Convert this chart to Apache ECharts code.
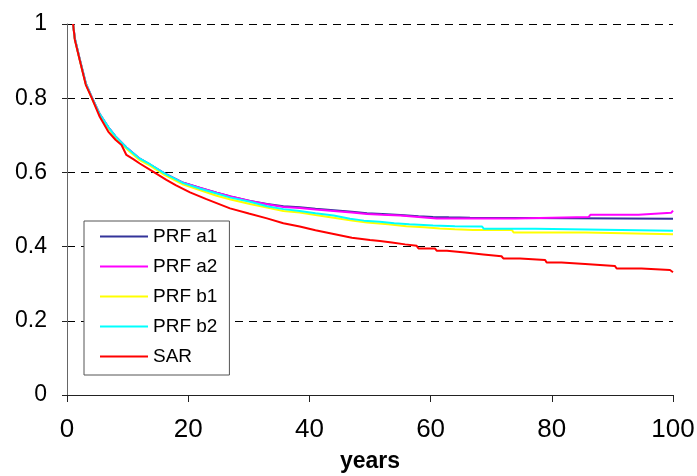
<!DOCTYPE html>
<html>
<head>
<meta charset="utf-8">
<script src="https://cdn.jsdelivr.net/npm/echarts@6/dist/echarts.min.js"></script>
<style>
  html, body { margin: 0; padding: 0; background: #fff; }
  #chart { width: 697px; height: 476px; }
</style>
</head>
<body>
<div id="chart"></div>
<script>
// Survival fraction over time, [years, fraction] pairs per model
const seriesNames = ['PRF a1', 'PRF a2', 'PRF b1', 'PRF b2', 'SAR'];
const xTicks = [0, 20, 40, 60, 80, 100];
const yTicks = [0, 0.2, 0.4, 0.6, 0.8, 1];

const prfA1 = [[1,1],[1.3,0.96],[2.1,0.905],[3.1,0.84],[4.1,0.802],[5.4,0.757],[6.8,0.722],[8,0.697],[9.8,0.667],[12,0.637],[13.7,0.621],[16,0.598],[19.2,0.572],[22,0.558],[24.7,0.545],[27,0.535],[30.2,0.523],[33,0.515],[35.7,0.509],[38.4,0.506],[41,0.502],[44,0.498],[47,0.494],[49.5,0.49],[52,0.488],[55,0.485],[58,0.482],[60.4,0.48],[63,0.479],[66.5,0.478],[66.8,0.475],[100,0.475]];
const prfA2 = [[1,1],[1.3,0.96],[2.1,0.905],[3.1,0.84],[4.1,0.802],[5.4,0.757],[6.8,0.722],[8,0.697],[9.8,0.667],[12,0.637],[13.7,0.621],[16,0.598],[19.2,0.572],[22,0.558],[24.7,0.545],[27,0.535],[30.2,0.523],[33,0.514],[35.7,0.507],[38.4,0.504],[41,0.5],[44,0.496],[47,0.492],[49.5,0.488],[52,0.486],[55,0.484],[58,0.48],[61,0.476],[74,0.476],[74.3,0.48],[86.1,0.48],[86.4,0.486],[94.3,0.486],[94.6,0.491],[99.7,0.491],[100,0.497]];
const prfB1 = [[1,1],[1.3,0.958],[2.1,0.903],[3.1,0.838],[4.1,0.8],[5.4,0.755],[6.8,0.72],[8,0.694],[9.8,0.664],[12,0.633],[13.7,0.618],[16,0.594],[19.2,0.567],[22,0.552],[24.7,0.537],[27,0.527],[30.2,0.515],[33,0.505],[35.7,0.496],[38.4,0.492],[41,0.485],[44,0.478],[47,0.47],[49.5,0.465],[53,0.46],[56,0.455],[59,0.452],[61.5,0.449],[64,0.447],[67,0.445],[73.4,0.445],[73.7,0.438],[85.6,0.438],[85.9,0.433],[100,0.433]];
const prfB2 = [[1,1],[1.3,0.96],[2.1,0.905],[3.1,0.84],[4.1,0.802],[5.4,0.757],[6.8,0.722],[8,0.697],[9.8,0.667],[12,0.637],[13.7,0.622],[16,0.598],[19.2,0.571],[22,0.556],[24.7,0.543],[27,0.532],[30.2,0.521],[33,0.509],[35.7,0.501],[38.4,0.496],[41,0.49],[44,0.484],[46.7,0.475],[49,0.47],[51.6,0.467],[54,0.463],[56.5,0.46],[60.4,0.457],[64,0.455],[68.5,0.454],[68.8,0.448],[77.3,0.448],[77.6,0.443],[100,0.443]];
const sar = [[1,1],[1.3,0.957],[2.1,0.903],[3.1,0.836],[4.1,0.8],[5.4,0.75],[6.8,0.71],[8,0.688],[9,0.674],[9.8,0.647],[11,0.635],[12,0.624],[14.2,0.602],[16.4,0.58],[18,0.565],[20.3,0.546],[23,0.528],[26.9,0.503],[30,0.489],[33,0.476],[35.7,0.463],[38.4,0.454],[41,0.444],[43.4,0.436],[47,0.424],[50,0.418],[51.65,0.415],[51.9,0.411],[53.6,0.411],[53.9,0.406],[55.8,0.406],[56.05,0.402],[57.7,0.402],[58,0.395],[60.7,0.395],[61,0.389],[62.7,0.389],[62.9,0.384],[65.7,0.384],[65.95,0.379],[68.7,0.379],[69,0.374],[71.7,0.374],[72,0.368],[74.75,0.368],[75,0.364],[78.9,0.364],[79.15,0.357],[81.6,0.357],[81.9,0.353],[85.5,0.353],[85.75,0.348],[90.4,0.348],[90.7,0.341],[94.8,0.341],[95.1,0.337],[99.5,0.337],[100,0.331]];

const seriesData = [prfA1, prfA2, prfB1, prfB2, sar];
const colors = ['#333399', '#ff00ff', '#ffff00', '#00ffff', '#ff0000'];

const FONT = '"Liberation Sans", Arial, sans-serif';

const chart = echarts.init(document.getElementById('chart'), null, { renderer: 'canvas' });

chart.setOption({
  animation: false,
  backgroundColor: '#ffffff',
  textStyle: { fontFamily: FONT, color: '#000' },
  grid: { left: 67, right: 24, top: 24, bottom: 81, outerBoundsMode: 'none', containLabel: false },
  legend: {
    orient: 'vertical',
    left: 84,
    top: 221,
    data: seriesNames,
    icon: 'rect',
    backgroundColor: '#ffffff',
    borderColor: '#555555',
    borderWidth: 1,
    borderRadius: 0,
    padding: [6, 12, 9, 16],
    itemWidth: 48,
    itemHeight: 2,
    itemGap: 11,
    textStyle: { fontFamily: FONT, fontSize: 19, color: '#000' }
  },
  xAxis: {
    type: 'value',
    min: xTicks[0],
    max: xTicks[xTicks.length - 1],
    interval: 20,
    name: 'years',
    nameLocation: 'middle',
    nameGap: 55,
    nameTextStyle: { fontFamily: FONT, fontSize: 23, fontWeight: 'bold', color: '#000' },
    axisLine: { show: true, lineStyle: { color: '#222', width: 1 } },
    axisTick: { show: true, inside: false, length: 7, lineStyle: { color: '#222' } },
    axisLabel: { fontFamily: FONT, fontSize: 26, color: '#000', margin: 22 },
    splitLine: { show: false }
  },
  yAxis: {
    type: 'value',
    min: yTicks[0],
    max: yTicks[yTicks.length - 1],
    interval: 0.2,
    axisLine: { show: true, lineStyle: { color: '#666', width: 1 } },
    axisTick: { show: true, inside: false, length: 5, lineStyle: { color: '#222' } },
    axisLabel: { fontFamily: FONT, fontSize: 23, color: '#000', margin: 20 },
    splitLine: { show: true, lineStyle: { color: '#000', width: 1, type: [8, 6] } }
  },
  series: seriesNames.map((name, i) => ({
    name: name,
    type: 'line',
    data: seriesData[i],
    showSymbol: false,
    symbol: 'none',
    smooth: false,
    clip: true,
    color: colors[i],
    lineStyle: { color: colors[i], width: 2 },
    z: 2 + i
  }))
});
</script>
</body>
</html>
